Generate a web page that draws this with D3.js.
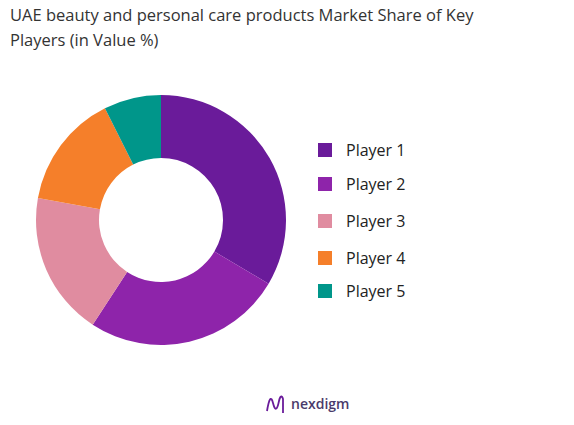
<html>
<head>
<script src="https://cdnjs.cloudflare.com/ajax/libs/d3/7.7.0/d3.min.js"></script>
<style>
html, body { margin: 0; background: #fff; font-family: 'Open Sans', sans-serif; }
</style>
</head>
<body>
<svg width="574" height="425"></svg>
<script>
const players = ['Player 1', 'Player 2', 'Player 3', 'Player 4', 'Player 5'];
const shares = [33.5, 25.7, 18.6, 14.8, 7.4];
const colors = ['#6a1b9a', '#8e24aa', '#e08ca0', '#f57f2a', '#00968a'];
const legendY = [150, 184, 221, 258, 291];

const svg = d3.select('svg');

svg.append('text').attr('x', 10).attr('y', 21)
  .attr('font-size', 16.5).attr('fill', '#333')
  .text('UAE beauty and personal care products Market Share of Key');
svg.append('text').attr('x', 10).attr('y', 46)
  .attr('font-size', 16.5).attr('fill', '#333')
  .text('Players (in Value %)');

const pie = d3.pie().sort(null).value(d => d);
const arc = d3.arc().innerRadius(62).outerRadius(125);

const g = svg.append('g').attr('transform', 'translate(161,220)');
g.selectAll('path')
  .data(pie(shares))
  .enter()
  .append('path')
  .attr('d', arc)
  .attr('fill', (d, i) => colors[i]);

const legend = svg.append('g');
players.forEach((p, i) => {
  legend.append('rect')
    .attr('x', 318).attr('y', legendY[i] - 7)
    .attr('width', 14).attr('height', 14)
    .attr('fill', colors[i]);
  legend.append('text')
    .attr('x', 346).attr('y', legendY[i] + 6)
    .attr('font-size', 16).attr('fill', '#222')
    .text(p);
});

// logo
const logo = svg.append('g').attr('transform', 'translate(265,393)');
logo.append('path')
  .attr('d', 'M2,18 C4,6 6,2 8,10 C10,18 12,18 14,8 C15,3 17,2 18,6 L18,20')
  .attr('fill', 'none').attr('stroke', '#6a1b9a').attr('stroke-width', 1.8);
logo.append('text').attr('x', 26).attr('y', 16)
  .attr('font-size', 14).attr('font-weight', 600).attr('fill', '#4a3a6a')
  .text('nexdigm');
</script>
</body>
</html>
